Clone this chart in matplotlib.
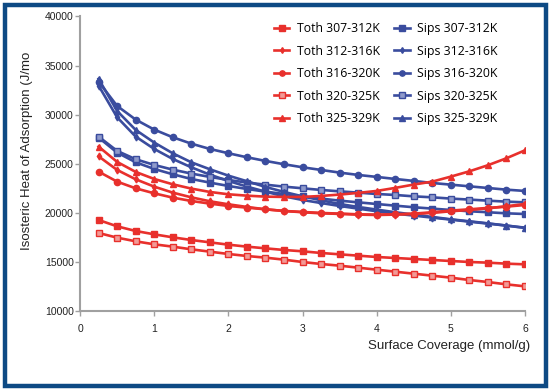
import matplotlib
matplotlib.use("Agg")
import matplotlib.pyplot as plt
from matplotlib.patches import Rectangle

coverage = [0.25, 0.5, 0.75, 1.0, 1.25, 1.5, 1.75, 2.0, 2.25, 2.5, 2.75, 3.0,
            3.25, 3.5, 3.75, 4.0, 4.25, 4.5, 4.75, 5.0, 5.25, 5.5, 5.75, 6.0]

toth_307_312 = [19272, 18627, 18151, 17811, 17505, 17233, 16995, 16757, 16556, 16384, 16216, 16080,
                15910, 15774, 15638, 15502, 15400, 15298, 15196, 15094, 14992, 14924, 14822, 14754]
toth_312_316 = [25760, 24370, 23420, 22670, 22060, 21580, 21180, 20870, 20600, 20360, 20190, 20060,
                19950, 19890, 19820, 19780, 19820, 19890, 19990, 20160, 20290, 20460, 20670, 20900]
toth_316_320 = [24200, 23180, 22500, 21990, 21550, 21210, 20940, 20700, 20530, 20360, 20190, 20090,
                19990, 19920, 19850, 19820, 19850, 19920, 20060, 20230, 20360, 20500, 20630, 20800]
toth_320_325 = [17948, 17472, 17100, 16794, 16556, 16284, 16046, 15808, 15604, 15434, 15230, 14992,
                14788, 14618, 14414, 14210, 14006, 13802, 13598, 13394, 13156, 12952, 12714, 12511]
toth_325_329 = [26750, 25190, 24170, 23450, 22910, 22470, 22130, 21890, 21750, 21650, 21620, 21620,
                21720, 21860, 22030, 22230, 22540, 22880, 23180, 23690, 24230, 24850, 25560, 26370]

sips_307_312 = [27670, 26140, 25150, 24470, 23930, 23450, 23080, 22740, 22430, 22160, 21920, 21680,
                21450, 21240, 21070, 20900, 20730, 20570, 20430, 20290, 20160, 20060, 19950, 19880]
sips_312_316 = [32970, 29740, 27770, 26510, 25490, 24640, 23890, 23250, 22670, 22160, 21680, 21310,
                21000, 20700, 20430, 20160, 19920, 19720, 19510, 19310, 19100, 18900, 18700, 18460]
sips_316_320 = [33370, 30890, 29500, 28480, 27700, 27050, 26510, 26070, 25660, 25290, 24950, 24640,
                24370, 24100, 23860, 23660, 23450, 23250, 23040, 22870, 22700, 22530, 22360, 22230]
sips_320_325 = [27770, 26310, 25460, 24880, 24400, 24000, 23660, 23350, 23080, 22870, 22670, 22500,
                22330, 22190, 22060, 21920, 21820, 21680, 21580, 21450, 21350, 21240, 21140, 21070]
sips_325_329 = [33650, 30380, 28450, 27160, 26070, 25150, 24440, 23790, 23220, 22640, 22130, 21680,
                21280, 20900, 20600, 20330, 20060, 19820, 19580, 19340, 19140, 18930, 18700, 18490]

toth_labels = ["Toth 307-312K", "Toth 312-316K", "Toth 316-320K", "Toth 320-325K", "Toth 325-329K"]
sips_labels = ["Sips 307-312K", "Sips 312-316K", "Sips 316-320K", "Sips 320-325K", "Sips 325-329K"]
toth_series = [toth_307_312, toth_312_316, toth_316_320, toth_320_325, toth_325_329]
sips_series = [sips_307_312, sips_312_316, sips_316_320, sips_320_325, sips_325_329]

xticks = [0, 1, 2, 3, 4, 5, 6]
yticks = [10000, 15000, 20000, 25000, 30000, 35000, 40000]

RED = "#e8302c"
BLUE = "#3a4c9e"
markers = ["s", "d", "o", "s", "^"]
msizes = [4.5, 3.5, 4.5, 4.5, 4.5]
open_face = [False, False, False, True, False]

plt.rcParams['font.family'] = ['Liberation Sans', 'DejaVu Sans']

fig = plt.figure(figsize=(5.51, 3.90), dpi=100)
ax = fig.add_axes([80/551, 1-311/390, 445/551, 294.5/390])

handles_s = []
for vals, lab, m, ms, of in zip(sips_series, sips_labels, markers, msizes, open_face):
    h, = ax.plot(coverage, vals, color=BLUE, lw=1.9, marker=m, ms=ms,
                 mfc=("#8f9acb" if of else BLUE), mec=BLUE, mew=1.0, label=lab)
    handles_s.append(h)
handles_t = []
for vals, lab, m, ms, of in zip(toth_series, toth_labels, markers, msizes, open_face):
    h, = ax.plot(coverage, vals, color=RED, lw=1.9, marker=m, ms=ms,
                 mfc=("#f29a96" if of else RED), mec=RED, mew=1.0, label=lab)
    handles_t.append(h)

ax.set_xlim(0, 6)
ax.set_ylim(10000, 40000)
ax.set_xticks(xticks)
ax.set_yticks(yticks)
for s in ["top", "right"]:
    ax.spines[s].set_visible(False)
for s in ["left", "bottom"]:
    ax.spines[s].set_color("#a0a0a0")
    ax.spines[s].set_linewidth(1.5)
ax.tick_params(axis="both", colors="#a0a0a0", length=3.5, width=1.0, labelsize=7.5,
               labelcolor="#222222")
ax.tick_params(axis="x", pad=6)
ax.tick_params(axis="y", pad=1)

leg = ax.legend(handles_t + handles_s, toth_labels + sips_labels, ncol=2, frameon=False,
                loc="upper left", bbox_to_anchor=(274/551, 1-22/390),
                bbox_transform=fig.transFigure,
                handlelength=1.25, handletextpad=0.6, columnspacing=1.2,
                labelspacing=0.78, borderaxespad=0, borderpad=0.0, markerscale=0.85,
                prop={'family': ['Open Sans', 'DejaVu Sans'], 'size': 8.8})

fig.text(530/551, 1-346/390, "Surface Coverage (mmol/g)", ha="right", va="center",
         fontsize=9.5, color="#222222")
fig.text(27.5/551, 1-151/390, "Isosteric Heat of Adsorption (J/mo", rotation=90,
         ha="center", va="center", fontsize=9.5, color="#222222")

fig.patches.append(Rectangle((4.5/551, 4.5/390), 541/551, 381/390, transform=fig.transFigure,
                             fill=False, edgecolor="#0d4a84", linewidth=3.2))

fig.savefig("out.png", dpi=100)
